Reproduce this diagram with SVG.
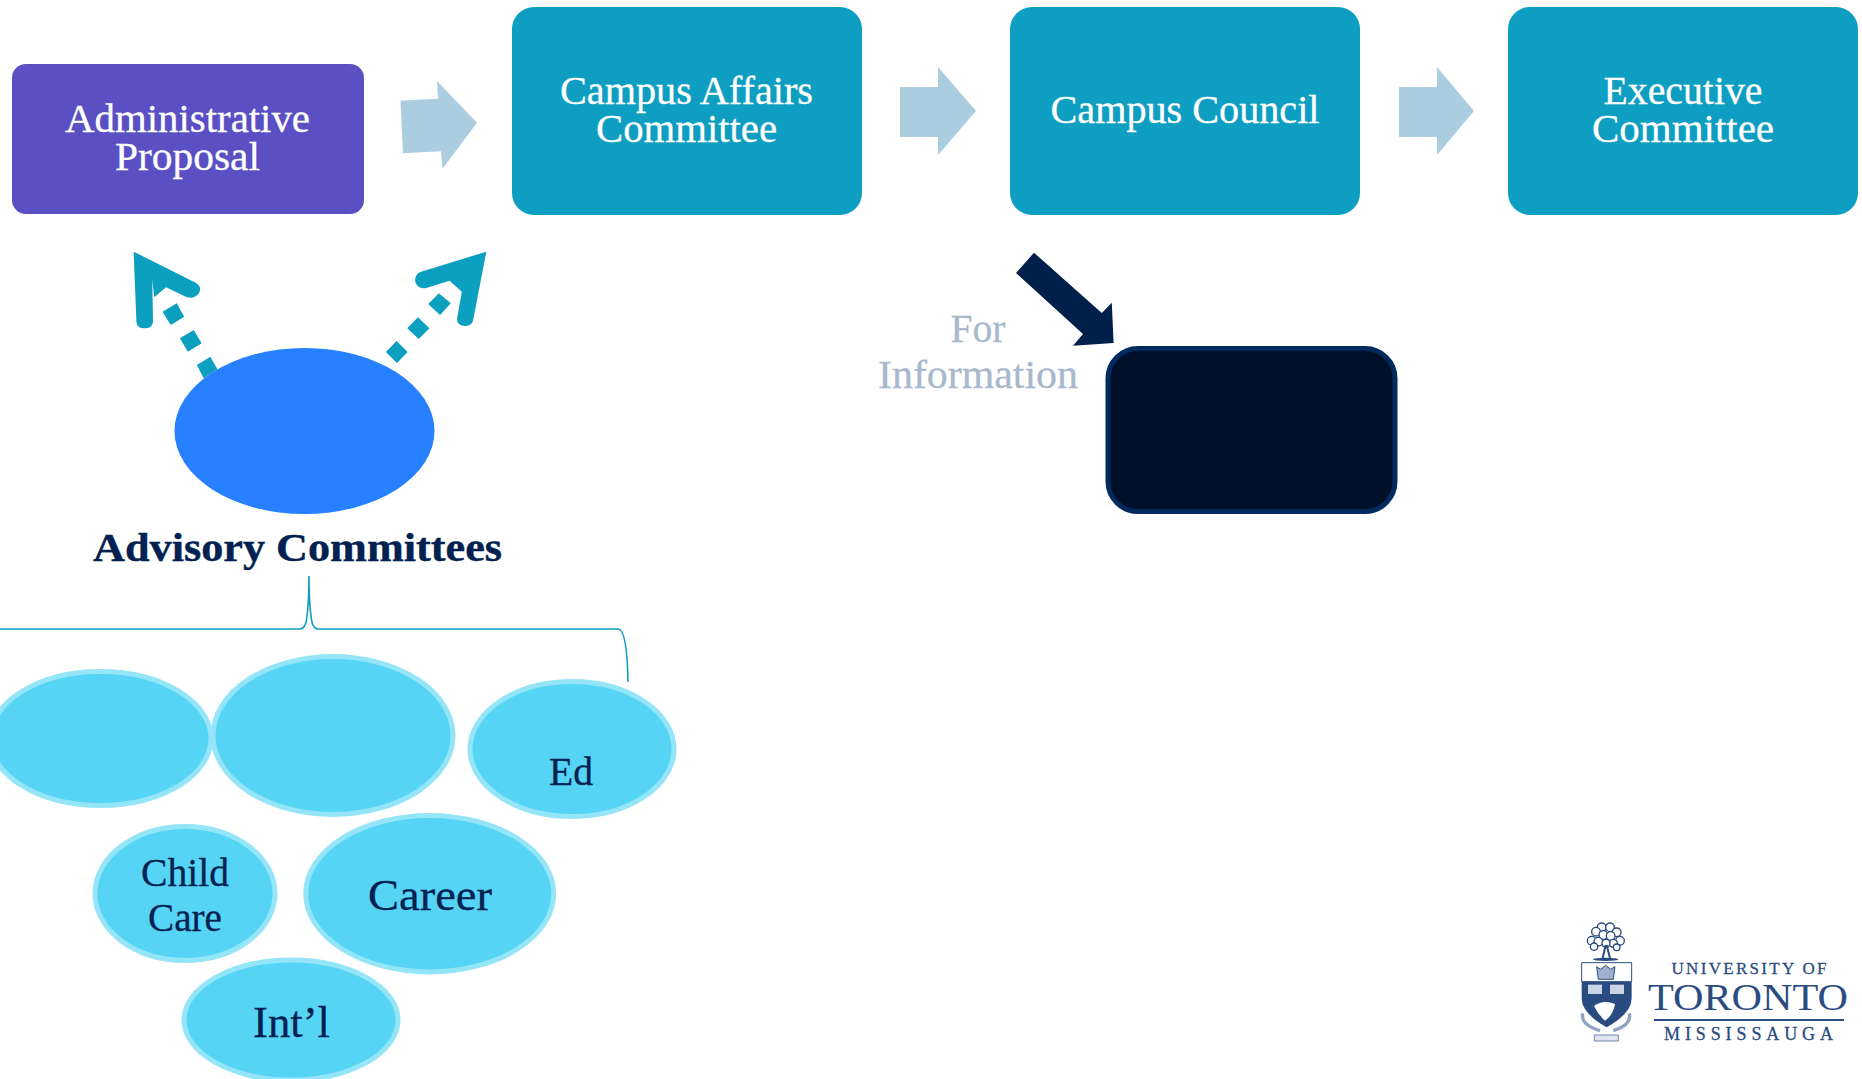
<svg xmlns="http://www.w3.org/2000/svg" width="1862" height="1079" viewBox="0 0 1862 1079">
<defs><filter id="soft" x="-5%" y="-5%" width="110%" height="110%"><feGaussianBlur stdDeviation="0.5"/></filter></defs>
<style>
text{font-family:"Liberation Serif","DejaVu Serif",serif;text-anchor:middle}
.w{fill:#fff;font-size:41px;stroke:#fff;stroke-width:.3}
.d{fill:#012150;font-size:40px;stroke:#012150;stroke-width:.3}
.teal{fill:#0e9ec1}
.blk{fill:#abcde0}
.oval{fill:#56d4f5;stroke:#95e5f9;stroke-width:5}
.dash{fill:#0b9fc0}
.lg{fill:#2b4c80}
.t{fill:#fff;stroke:#2b4c80;stroke-width:4}
</style>
<rect width="1862" height="1079" fill="#fff"/>
<g id="connectors">
<polygon class="blk" points="400.5,100.7 438,98.7 437,81 477,122.7 442.5,168.7 441,151.3 403,153.3"/>
<polygon class="blk" points="900,87 938,87 938,67 976,111 938,155 938,137 900,137"/>
<polygon class="blk" points="1399,87 1437,87 1437,67 1474,111 1437,155 1437,137 1399,137"/>
<polygon fill="#011f4b" points="1034,252.7 1016,273 1083,334 1073,345.7 1113.6,343 1111.8,302.7 1101.8,313"/>
<g class="dash" transform="scale(0.3954,0.3333)">
<path d="M338,755L495,848Q512,860 503,880Q490,900 470,890L420,862L390,892L385,838L387,965Q385,985 366,985Q346,985 345,965Z"/>
<polygon points="411,935 447,910 466,950 432,975"/>
<polygon points="455,1015 490,990 510,1030 475,1055"/>
<polygon points="498,1095 532,1070 550,1108 515,1135"/>
<path d="M1230,755L1065,815Q1048,822 1050,845Q1058,870 1080,863L1137,842L1168,875L1156,955Q1155,978 1177,978Q1195,978 1197,958Z"/>
<polygon points="1110,880 1140,910 1113,945 1083,912"/>
<polygon points="1057,952 1086,985 1059,1017 1030,985"/>
<polygon points="1003,1023 1031,1056 1004,1089 976,1056"/>
</g>
<path d="M0,629H300Q306,629 307,616Q309,601 309,576Q309,601 311,616Q312,629 318,629H618Q627,629 628,682" fill="none" stroke="#0e9dc0" stroke-width="1.6"/>
</g>
<g id="admin"><rect x="12" y="64" width="352" height="150" rx="14" fill="#5a50c3"/>
<text class="w" x="187.5" y="132" textLength="245" lengthAdjust="spacingAndGlyphs">Administrative</text>
<text class="w" x="187.5" y="170" textLength="145" lengthAdjust="spacingAndGlyphs">Proposal</text></g>
<g id="campus-affairs"><rect class="teal" x="512" y="7" width="350" height="208" rx="22"/>
<text class="w" x="686.5" y="104" textLength="253" lengthAdjust="spacingAndGlyphs">Campus Affairs</text>
<text class="w" x="686.5" y="142" textLength="181" lengthAdjust="spacingAndGlyphs">Committee</text></g>
<g id="campus-council"><rect class="teal" x="1010" y="7" width="350" height="208" rx="22"/>
<text class="w" x="1185" y="123" textLength="269" lengthAdjust="spacingAndGlyphs">Campus Council</text></g>
<g id="executive"><rect class="teal" x="1508" y="7" width="350" height="208" rx="22"/>
<text class="w" x="1683" y="104" textLength="159" lengthAdjust="spacingAndGlyphs">Executive</text>
<text class="w" x="1683" y="142" textLength="182" lengthAdjust="spacingAndGlyphs">Committee</text></g>
<g id="for-information">
<text x="978" y="342" font-size="40" fill="#a9b8cd" stroke="#a9b8cd" stroke-width=".3" textLength="55" lengthAdjust="spacingAndGlyphs">For</text>
<text x="978" y="388" font-size="40" fill="#a9b8cd" stroke="#a9b8cd" stroke-width=".3" textLength="200" lengthAdjust="spacingAndGlyphs">Information</text></g>
<g id="dark-box"><rect x="1108" y="348.500" width="287" height="163" rx="30" fill="#001028" stroke="#012a5e" stroke-width="5"/></g>
<g id="advisory"><ellipse cx="304.500" cy="431" rx="130" ry="83" fill="#2680ff"/>
<text x="297.500" y="561" font-size="40" font-weight="bold" fill="#012150" stroke="#012150" stroke-width=".4" textLength="409" lengthAdjust="spacingAndGlyphs">Advisory Committees</text></g>
<g id="oval-1"><ellipse class="oval" cx="100.500" cy="738.500" rx="110.500" ry="67"/></g>
<g id="oval-2"><ellipse class="oval" cx="333" cy="735.500" rx="120" ry="79"/></g>
<g id="oval-ed"><ellipse class="oval" cx="572" cy="749" rx="102" ry="67.500"/>
<text class="d" x="571" y="785" textLength="44" lengthAdjust="spacingAndGlyphs">Ed</text></g>
<g id="oval-child-care"><ellipse class="oval" cx="185" cy="893.500" rx="90" ry="67"/>
<text class="d" x="185" y="886" textLength="88" lengthAdjust="spacingAndGlyphs">Child</text>
<text class="d" x="185" y="931" textLength="74" lengthAdjust="spacingAndGlyphs">Care</text></g>
<g id="oval-career"><ellipse class="oval" cx="429.700" cy="893.700" rx="124" ry="78.200"/>
<text class="d" x="430" y="910" style="font-size:45px" textLength="124" lengthAdjust="spacingAndGlyphs">Career</text></g>
<g id="oval-intl"><ellipse class="oval" cx="291" cy="1020" rx="107" ry="60"/>
<text class="d" x="291.500" y="1037" style="font-size:45px" textLength="77" lengthAdjust="spacingAndGlyphs">Int’l</text></g>
<g id="logo">
<g transform="translate(1560,900) scale(0.3333)" filter="url(#soft)">
<g class="t">
<circle cx="125" cy="82" r="13"/><circle cx="150" cy="82" r="13"/><circle cx="108" cy="95" r="13"/><circle cx="170" cy="97" r="13"/><circle cx="130" cy="105" r="13"/><circle cx="152" cy="108" r="13"/><circle cx="95" cy="122" r="13"/><circle cx="180" cy="122" r="13"/><circle cx="115" cy="125" r="13"/><circle cx="160" cy="130" r="12"/><circle cx="102" cy="140" r="11"/><circle cx="170" cy="142" r="10"/><circle cx="138" cy="130" r="12"/>
</g>
<path d="M137,135L128,175M140,135L150,175" stroke="#2b4c80" stroke-width="6" fill="none"/>
<ellipse class="lg" cx="137" cy="178" rx="38" ry="5"/>
<path d="M65,188H215V245H65Z" fill="#fff" stroke="#2b4c80" stroke-width="3"/>
<path class="lg" d="M65,245H215V295Q215,340 140,382Q65,340 65,295Z"/>
<path d="M110,200L122,208L137,196L152,208L165,200L160,238H115Z" fill="#9fb0cc" stroke="#2b4c80" stroke-width="3"/>
<rect x="84" y="254" width="42" height="28" fill="#c9d5e6"/><rect x="150" y="254" width="42" height="28" fill="#c9d5e6"/>
<path d="M102,318Q130,298 165,312Q160,345 135,362Q115,345 102,318Z" fill="#fff"/>
<path d="M68,340Q62,375 120,392M208,340Q215,375 160,392" fill="none" stroke="#8fa3c2" stroke-width="10"/>
<path d="M103,405H175V423H103Z" fill="#dfe6f0" stroke="#6f88ad" stroke-width="3"/>
</g>
<text class="lg" x="1749" y="974" font-size="17" textLength="155" lengthAdjust="spacing" stroke="#2b4c80" stroke-width=".3">UNIVERSITY OF</text>
<text class="lg" x="1748" y="1010" font-size="38" textLength="200" lengthAdjust="spacingAndGlyphs">TORONTO</text>
<rect class="lg" x="1654" y="1019" width="190" height="2"/>
<text class="lg" x="1748.500" y="1040" font-size="18" textLength="169" lengthAdjust="spacing" stroke="#2b4c80" stroke-width=".3">MISSISSAUGA</text>
</g>
</svg>
